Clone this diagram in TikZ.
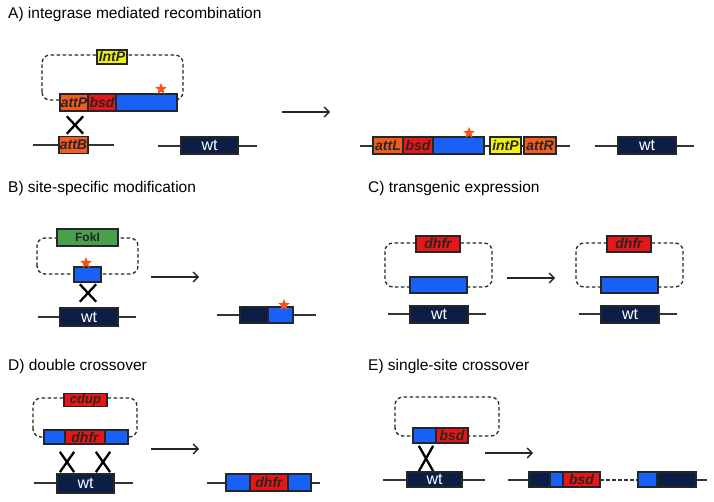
\documentclass[tikz,border=0pt]{standalone}
\usepackage{fontspec}
\setmainfont{Liberation Sans}
\usetikzlibrary{positioning,shapes.geometric,shapes.misc,arrows.meta}

\definecolor{attorange}{RGB}{242,92,30}
\definecolor{bsdred}{RGB}{232,22,22}
\definecolor{geneblue}{RGB}{24,96,246}
\definecolor{wtnavy}{RGB}{12,30,70}
\definecolor{intyellow}{RGB}{240,240,24}
\definecolor{fokgreen}{RGB}{72,160,76}
\definecolor{starorange}{RGB}{250,82,22}

\tikzset{
  gene/.style={draw=black!85, line width=1.1pt, inner sep=0pt, outer sep=0pt,
    minimum height=17pt, text=black!85,
    font=\fontsize{14}{14}\selectfont\bfseries\itshape},
  att/.style={gene, fill=attorange},
  bsd/.style={gene, fill=bsdred},
  orf/.style={gene, fill=geneblue},
  intp/.style={gene, fill=intyellow},
  fok/.style={gene, fill=fokgreen, font=\fontsize{12}{12}\selectfont\bfseries},
  chromseg/.style={gene, fill=wtnavy},
  wt/.style={chromseg, text=white, font=\fontsize{16}{16}\selectfont},
  chrom/.style={line width=1.3pt, black!80},
  plasmid/.style={line width=1.3pt, black!85, rounded corners=8pt,
    dash pattern=on 3.5pt off 2.5pt},
  mut/.style={star, star points=5, star point ratio=2.3, fill=starorange,
    inner sep=0pt, minimum size=12pt},
  xover/.style={cross out, draw=black, line width=2.3pt, inner sep=0pt,
    minimum width=14pt, minimum height=15pt},
  reacts/.style={line width=1.3pt, black!85, -{Straight Barb[length=5pt,width=10pt]}},
  paneltitle/.style={anchor=base west, inner sep=0pt,
    font=\fontsize{15.5}{15.5}\selectfont}
}

\begin{document}
\begin{tikzpicture}[x=1pt,y=-1pt]
    \useasboundingbox[fill=white] (0,0) rectangle (714,502);

    % A) integrase mediated recombination
    \node[paneltitle] (tA) at (8,19) {A) integrase mediated recombination};
    \draw[plasmid] (42,100) rectangle (183,55);
    \node[intp, minimum width=30pt, minimum height=14pt] (intP) at (112,57) {IntP};
    \node[att, minimum width=28pt, anchor=west] (attP) at (60,102.5) {attP};
    \node[bsd, minimum width=28pt, right=0pt of attP] (bsdA) {bsd};
    \node[orf, minimum width=61pt, right=0pt of bsdA] (orfA) {};
    \node[mut] (starA) at (161,89) {};
    \node[xover] (xA) at (75,125) {};
    \coordinate (chrA1) at (33,145);
    \coordinate (chrA2) at (114,145);
    \draw[chrom] (chrA1) -- (chrA2);
    \node[att, minimum width=29pt] (attB) at (73.5,145) {attB};
    \coordinate (chrA3) at (158,146);
    \coordinate (chrA4) at (257,146);
    \draw[chrom] (chrA3) -- (chrA4);
    \node[wt, minimum width=57pt] (wtA) at (209.5,145.5) {wt};
    \coordinate (arA1) at (282,112);
    \coordinate (arA2) at (330,112);
    \draw[reacts] (arA1) -- (arA2);
    \coordinate (chrA5) at (360,146);
    \coordinate (chrA6) at (570,146);
    \draw[chrom] (chrA5) -- (chrA6);
    \node[att, minimum width=30pt, anchor=west] (attL) at (373,145.5) {attL};
    \node[bsd, minimum width=30pt, right=0pt of attL] (bsdR) {bsd};
    \node[orf, minimum width=51pt, right=0pt of bsdR] (orfR) {};
    \node[mut] (starR) at (469,133) {};
    \node[intp, minimum width=31pt, anchor=west] (intPR) at (490,145.5) {intP};
    \node[att, minimum width=32pt, anchor=west] (attR) at (524,145.5) {attR};
    \coordinate (chrA7) at (595,146);
    \coordinate (chrA8) at (694,146);
    \draw[chrom] (chrA7) -- (chrA8);
    \node[wt, minimum width=58pt] (wtR) at (647,145.5) {wt};

    % B) site-specific modification
    \node[paneltitle] (tB) at (8,193) {B) site-specific modification};
    \draw[plasmid] (37,274) rectangle (138,238);
    \node[fok, minimum width=61pt] (fokI) at (87.5,237.5) {FokI};
    \node[orf, minimum width=27pt, minimum height=15pt] (orfB) at (87.5,274.5) {};
    \node[mut] (starB) at (86,263) {};
    \node[xover] (xB) at (88,293) {};
    \coordinate (chrB1) at (38,317);
    \coordinate (chrB2) at (136,317);
    \draw[chrom] (chrB1) -- (chrB2);
    \node[wt, minimum width=58pt, minimum height=18pt] (wtB) at (89,317) {wt};
    \coordinate (arB1) at (151,277);
    \coordinate (arB2) at (199,277);
    \draw[reacts] (arB1) -- (arB2);
    \coordinate (chrB3) at (217,315);
    \coordinate (chrB4) at (316,315);
    \draw[chrom] (chrB3) -- (chrB4);
    \node[chromseg, minimum width=28pt, minimum height=16pt, anchor=west] (wtBL) at (240,315) {};
    \node[orf, minimum width=25pt, minimum height=16pt, right=0pt of wtBL] (orfBR) {};
    \node[mut] (starBR) at (284,305) {};

    % C) transgenic expression
    \node[paneltitle] (tC) at (368,193) {C) transgenic expression};
    \draw[plasmid] (385,287) rectangle (492,243);
    \node[bsd, minimum width=44pt, minimum height=16pt] (dhfrC) at (438,244) {dhfr};
    \node[orf, minimum width=57pt, minimum height=16pt] (orfC) at (438.5,285) {};
    \coordinate (chrC1) at (388,314);
    \coordinate (chrC2) at (486,314);
    \draw[chrom] (chrC1) -- (chrC2);
    \node[wt, minimum width=58pt] (wtC) at (439,314.5) {wt};
    \coordinate (arC1) at (507,278);
    \coordinate (arC2) at (555,278);
    \draw[reacts] (arC1) -- (arC2);
    \draw[plasmid] (576,287) rectangle (683,243);
    \node[bsd, minimum width=44pt, minimum height=16pt] (dhfrCR) at (629,244) {dhfr};
    \node[orf, minimum width=57pt, minimum height=16pt] (orfCR) at (629.5,285) {};
    \coordinate (chrC3) at (579,314);
    \coordinate (chrC4) at (677,314);
    \draw[chrom] (chrC3) -- (chrC4);
    \node[wt, minimum width=58pt] (wtCR) at (630,314.5) {wt};

    % D) double crossover
    \node[paneltitle] (tD) at (8,370) {D) double crossover};
    \draw[plasmid] (33,437) rectangle (137,398);
    \node[bsd, minimum width=43pt, minimum height=13pt,
      font=\fontsize{13}{13}\selectfont\bfseries\itshape] (cdup) at (85.5,400) {cdup};
    \node[orf, minimum width=21pt, minimum height=14pt, anchor=west] (orfD1) at (44,437) {};
    \node[bsd, minimum width=40pt, minimum height=14pt, right=0pt of orfD1] (dhfrD) {dhfr};
    \node[orf, minimum width=23pt, minimum height=14pt, right=0pt of dhfrD] (orfD2) {};
    \node[xover, minimum width=12pt, minimum height=18pt] (xD1) at (67,462) {};
    \node[xover, minimum width=12pt, minimum height=18pt] (xD2) at (103,462) {};
    \coordinate (chrD1) at (34,483);
    \coordinate (chrD2) at (133,483);
    \draw[chrom] (chrD1) -- (chrD2);
    \node[wt, minimum width=57pt, minimum height=19pt] (wtD) at (85.5,483.5) {wt};
    \coordinate (arD1) at (151,449);
    \coordinate (arD2) at (199,449);
    \draw[reacts] (arD1) -- (arD2);
    \coordinate (chrD3) at (207,483);
    \coordinate (chrD4) at (320,483);
    \draw[chrom] (chrD3) -- (chrD4);
    \node[orf, minimum width=24pt, anchor=west] (orfD3) at (226,482.5) {};
    \node[bsd, minimum width=38pt, right=0pt of orfD3] (dhfrDR) {dhfr};
    \node[orf, minimum width=23pt, right=0pt of dhfrDR] (orfD4) {};

    % E) single-site crossover
    \node[paneltitle] (tE) at (368,370) {E) single-site crossover};
    \draw[plasmid] (395,436) rectangle (499,397);
    \node[orf, minimum width=23pt, minimum height=15pt, anchor=west] (orfE) at (413,435.5) {};
    \node[bsd, minimum width=32pt, minimum height=15pt, right=0pt of orfE] (bsdE) {bsd};
    \node[xover, minimum width=12pt, minimum height=23pt] (xE) at (426,458.5) {};
    \coordinate (chrE1) at (383,480);
    \coordinate (chrE2) at (485,480);
    \draw[chrom] (chrE1) -- (chrE2);
    \node[wt, minimum width=55pt, minimum height=15pt] (wtE) at (434.5,479.5) {wt};
    \coordinate (arE1) at (485,453);
    \coordinate (arE2) at (533,453);
    \draw[reacts] (arE1) -- (arE2);
    \coordinate (chrE3) at (508,480);
    \coordinate (chrE4) at (600,480);
    \coordinate (chrE5) at (638,480);
    \coordinate (chrE6) at (707,480);
    \draw[chrom] (chrE3) -- (chrE4);
    \draw[chrom, dash pattern=on 3.5pt off 2.5pt] (chrE4) -- (chrE5);
    \draw[chrom] (chrE5) -- (chrE6);
    \node[chromseg, minimum width=21pt, minimum height=15pt, anchor=west] (wtE1) at (529,479.5) {};
    \node[orf, minimum width=13pt, minimum height=15pt, right=0pt of wtE1] (orfE1) {};
    \node[bsd, minimum width=37pt, minimum height=15pt, right=0pt of orfE1] (bsdER) {bsd};
    \node[orf, minimum width=19pt, minimum height=15pt, anchor=west] (orfE2) at (638,479.5) {};
    \node[chromseg, minimum width=39pt, minimum height=15pt, right=0pt of orfE2] (wtE2) {};
\end{tikzpicture}
\end{document}
